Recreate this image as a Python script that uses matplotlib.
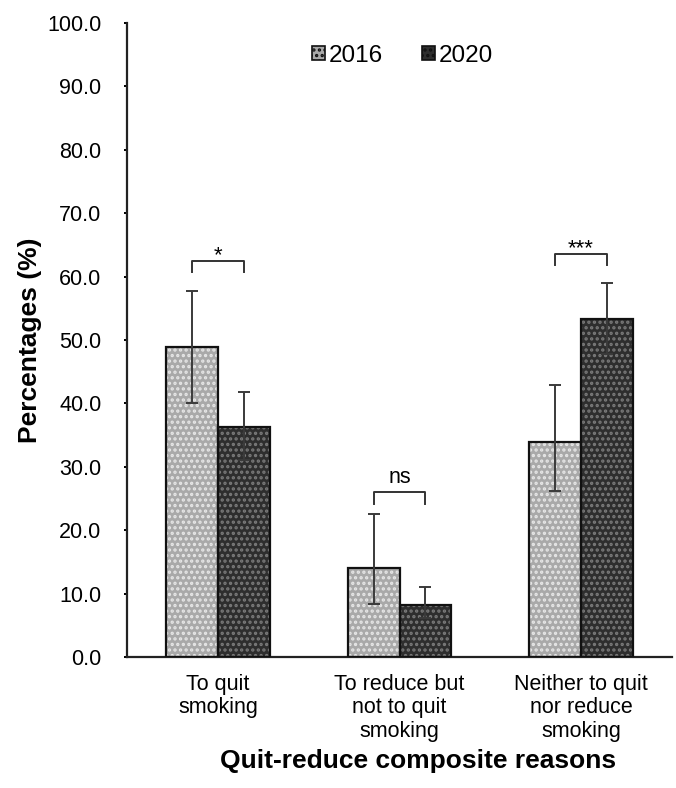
import numpy as np
import matplotlib
matplotlib.use('Agg')
import matplotlib.pyplot as plt
from matplotlib.patches import Rectangle

plt.rcParams['font.family'] = ['Liberation Sans', 'DejaVu Sans']
plt.rcParams['hatch.linewidth'] = 1.6

categories = ['To quit\nsmoking', 'To reduce but\nnot to quit\nsmoking', 'Neither to quit\nnor reduce\nsmoking']
years = ['2016', '2020']
pct_2016 = [48.9, 14.0, 33.9]
pct_2020 = [36.3, 8.2, 53.3]
low_2016 = [40.1, 8.4, 26.2]
high_2016 = [57.7, 22.6, 42.9]
low_2020 = [31.1, 6.2, 47.8]
high_2020 = [41.8, 11.0, 59.0]
sig_labels = ['*', 'ns', '***']
sig_heights = [62.5, 26.0, 63.6]

face = ['#a9a9a9', '#2e2e2e']
dots = ['#e6e6e6', '#7a7a7a']

fig = plt.figure(figsize=(6.76, 7.88), dpi=100)
ax = fig.add_axes([0.188, 0.166, 0.806, 0.805])

x = np.arange(len(categories))
w = 0.286
series = [(pct_2016, low_2016, high_2016), (pct_2020, low_2020, high_2020)]
for i, (vals, lo, hi) in enumerate(series):
    pos = x + (i - 0.5) * w
    ax.bar(pos, vals, w, color=face[i], linewidth=0, zorder=2)
    ax.bar(pos, vals, w, fill=False, hatch='...', edgecolor=dots[i], linewidth=0, zorder=2.5)
    ax.bar(pos, vals, w, fill=False, edgecolor='#111111', linewidth=1.6, zorder=3)
    err = [np.array(vals) - np.array(lo), np.array(hi) - np.array(vals)]
    ax.errorbar(pos, vals, yerr=err, fmt='none', ecolor='#3a3a3a', elinewidth=1.4,
                capsize=4, capthick=1.4, zorder=4)

# significance brackets
for j in range(len(categories)):
    x0 = x[j] - 0.5 * w
    x1 = x[j] + 0.5 * w
    h = sig_heights[j]
    ax.plot([x0, x0, x1, x1], [h - 1.8, h, h, h - 1.8], color='#333333', lw=1.4, zorder=4)
    if sig_labels[j] == 'ns':
        ax.text(x[j], h + 0.6, sig_labels[j], ha='center', va='bottom', fontsize=15.5)
    else:
        ax.text(x[j], h - 0.9, sig_labels[j], ha='center', va='bottom', fontsize=16)

ax.set_xlim(-0.5, 2.5)
ax.set_ylim(0, 100)
ax.set_yticks(np.arange(0, 101, 10))
ax.set_yticklabels(['%.1f' % v for v in np.arange(0, 101, 10)], fontsize=15.5)
ax.set_xticks(x)
ax.set_xticklabels(categories, fontsize=15.5, linespacing=1.15)
ax.tick_params(axis='x', length=0, pad=12)
ax.tick_params(axis='y', length=2.5, width=1.4, direction='out', pad=16)
for s in ['top', 'right']:
    ax.spines[s].set_visible(False)
for s in ['left', 'bottom']:
    ax.spines[s].set_linewidth(1.6)
    ax.spines[s].set_color('#222222')

ax.set_ylabel('Percentages (%)', fontsize=19, fontweight='bold', labelpad=4)
ax.set_xlabel('Quit-reduce composite reasons', fontsize=19, fontweight='bold', labelpad=6)
ax.xaxis.set_label_coords(0.534, -0.145)

handles = [Rectangle((0, 0), 1, 1, facecolor=face[i], edgecolor='#111111', hatch='...', linewidth=1.2)
           for i in range(2)]
leg = ax.legend(handles, years, loc='upper center', bbox_to_anchor=(0.505, 1.0), ncol=2,
                frameon=False, fontsize=17.5, handlelength=0.55, handleheight=0.55,
                handletextpad=0.15, columnspacing=1.6)

fig.savefig('out.png', dpi=100)
